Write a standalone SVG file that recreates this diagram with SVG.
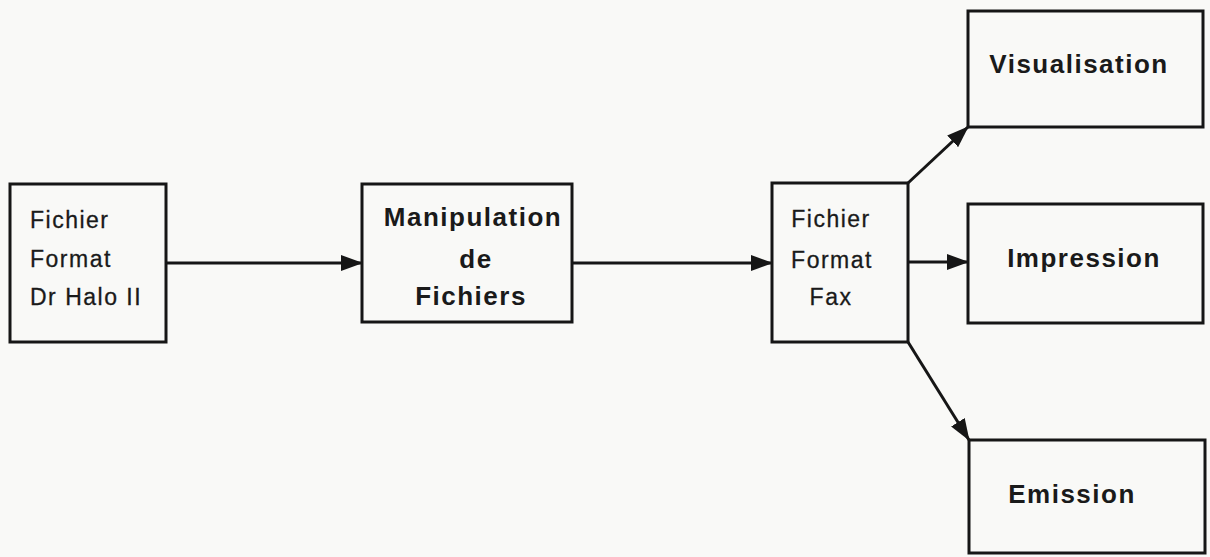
<svg xmlns="http://www.w3.org/2000/svg" width="1210" height="557" viewBox="0 0 1210 557">
<style>
.box{fill:none;stroke:#161616;stroke-width:3}
.t{font-family:"Liberation Sans",Arial,sans-serif;font-size:23px;fill:#1a1a1a;letter-spacing:1.5px;stroke:#1a1a1a;stroke-width:0.3}
.b{font-family:"Liberation Sans",Arial,sans-serif;font-size:26px;font-weight:bold;fill:#1a1a1a;letter-spacing:1.5px}
.c{stroke:#161616;stroke-width:3;fill:none;marker-end:url(#ah)}
</style>
<defs>
<marker id="ah" markerWidth="22" markerHeight="16" refX="21" refY="8" orient="auto" markerUnits="userSpaceOnUse">
<path d="M0,0 L22,8 L0,16 Z" fill="#161616"/>
</marker>
</defs>
<rect width="1210" height="557" fill="#f9f9f7"/>
<g id="connectors">
<line class="c" x1="166" y1="263" x2="362" y2="263"/>
<line class="c" x1="572" y1="263" x2="772" y2="263"/>
<line class="c" x1="908" y1="262" x2="968" y2="262"/>
<line class="c" x1="908" y1="183" x2="968" y2="127"/>
<line class="c" x1="908" y1="342" x2="969" y2="440"/>
</g>
<g id="n1">
<rect class="box" x="10" y="184" width="156" height="158"/>
<text class="t" x="30" y="228">Fichier</text>
<text class="t" x="30" y="267">Format</text>
<text class="t" x="30" y="305">Dr Halo II</text>
</g>
<g id="n2">
<rect class="box" x="362" y="184" width="210" height="138"/>
<text class="b" x="473" y="226" text-anchor="middle">Manipulation</text>
<text class="b" x="476" y="268" text-anchor="middle">de</text>
<text class="b" x="471" y="305" text-anchor="middle">Fichiers</text>
</g>
<g id="n3">
<rect class="box" x="772" y="183" width="136" height="159"/>
<text class="t" x="831" y="227" text-anchor="middle">Fichier</text>
<text class="t" x="832" y="268" text-anchor="middle">Format</text>
<text class="t" x="831" y="305" text-anchor="middle">Fax</text>
</g>
<g id="n4">
<rect class="box" x="968" y="11" width="235" height="116"/>
<text class="b" x="1079" y="73" text-anchor="middle">Visualisation</text>
</g>
<g id="n5">
<rect class="box" x="968" y="204" width="235" height="119"/>
<text class="b" x="1084" y="267" text-anchor="middle">Impression</text>
</g>
<g id="n6">
<rect class="box" x="969" y="440" width="236" height="113"/>
<text class="b" x="1072" y="503" text-anchor="middle">Emission</text>
</g>
</svg>
